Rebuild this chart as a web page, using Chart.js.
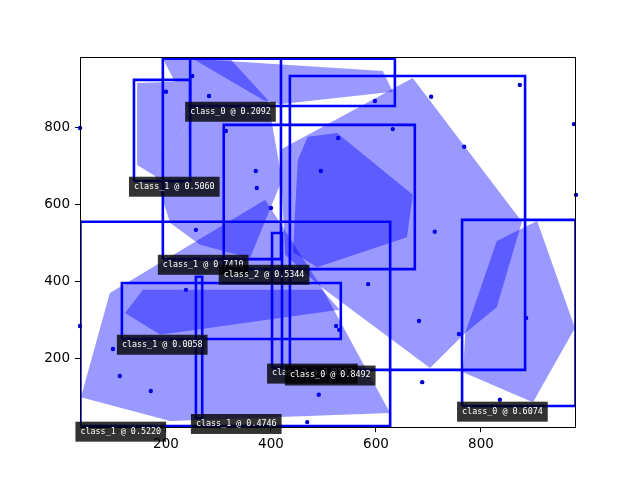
<!DOCTYPE html>
<html><head><meta charset="utf-8">
<script src="https://cdn.jsdelivr.net/npm/chart.js@4/dist/chart.umd.min.js"></script>
<style>html,body{margin:0;padding:0;background:#fff}</style>
</head><body>
<canvas id="c" width="640" height="480" style="display:block;width:640px;height:480px"></canvas>
<script>
// axis ticks and limits
const xTicks = [200, 400, 600, 800];
const yTicks = [200, 400, 600, 800];
const xRange = [36.2, 981];
const yRange = [21.8, 983];

// scatter points
const pointX = [36.2, 200, 250, 282, 314, 371, 373, 400, 257, 598, 705, 874, 977, 632, 528, 768, 495, 981, 712, 585, 524, 530, 682, 758, 886, 688, 491, 469, 836, 36.2, 99, 112, 171, 238];
const pointY = [800, 894, 935, 883, 792, 688, 644, 592, 535, 870, 881, 912, 810, 797, 774, 751, 688, 626, 530, 394, 285, 275, 298, 264, 306, 139, 106, 35, 93, 285, 225, 155, 116, 379];

// polygons (x, y vertices)
const polyA  = [[145,917],[217,920],[242,816],[179,675],[145,704]];
const polyTop = [[251,980],[613,948],[632,894],[417,862],[385,873]];
const polyMid = [[194,980],[322,980],[394,873],[421,665],[360,462],[265,496],[208,553],[179,675],[242,816],[217,920]];
const polyBig = [[670,930],[878,556],[830,334],[770,267],[703,176],[493,389],[427,470],[417,743]];
const polyInner = [[470,777],[526,787],[670,626],[659,516],[488,438],[442,477],[451,717]];
const polyRight = [[830,506],[907,558],[979,280],[899,87],[766,165],[770,267]];
const polyLow = [[38,100],[93,371],[389,613],[497,384],[627,59],[208,38]];
const polyBand = [[122,319],[156,379],[497,379],[531,327],[417,306],[189,262]];
const polygons = [polyA, polyTop, polyMid, polyBig, polyInner, polyRight, polyLow, polyBand];

// detection boxes
const boxLabels = ['class_1 @ 0.5060','class_0 @ 0.2092','class_1 @ 0.7410','class_2 @ 0.5344','class_1 @ 0.0058','class_2 @ 0.3107','class_0 @ 0.8492','class_1 @ 0.4746','class_1 @ 0.5220','class_0 @ 0.6074'];
const boxLeft   = [139, 246, 194, 310, 116, 402, 436, 257, 37, 764];
const boxRight  = [246, 636, 419, 674, 533, 421, 884, 269, 627, 980];
const boxBottom = [662, 857, 459, 433, 251, 176, 171, 45, 25, 77];
const boxTop    = [925, 980, 980, 808, 397, 527, 935, 413, 556, 561];

const datasets = [];
polygons.forEach(p => datasets.push({
  data: p.map(v => ({x: v[0], y: v[1]})),
  showLine: true, fill: 'shape', backgroundColor: 'rgba(0,0,255,0.4)',
  borderWidth: 0, borderColor: 'rgba(0,0,0,0)', pointRadius: 0, tension: 0
}));
boxLabels.forEach((t, i) => datasets.push({
  data: [
    {x: boxLeft[i], y: boxBottom[i]}, {x: boxRight[i], y: boxBottom[i]},
    {x: boxRight[i], y: boxTop[i]}, {x: boxLeft[i], y: boxTop[i]},
    {x: boxLeft[i], y: boxBottom[i]}
  ],
  showLine: true, fill: false, borderColor: '#0000ff', borderWidth: 2.6,
  pointRadius: 0, tension: 0, borderJoinStyle: 'miter'
}));
datasets.push({
  data: pointX.map((x, i) => ({x, y: pointY[i]})),
  showLine: false, pointRadius: 2.2, backgroundColor: '#0000cc', borderWidth: 0,
  clip: 3
});

const overlay = {
  id: 'overlay',
  afterDatasetsDraw(chart) {
    const {ctx, scales: {x, y}} = chart;
    ctx.save();
    ctx.strokeStyle = '#000'; ctx.lineWidth = 1;
    ctx.strokeRect(80.5, 57.5, 495, 370);
    ctx.font = '8.4px "DejaVu Sans Mono"';
    ctx.textBaseline = 'middle';
    boxLabels.forEach((t, i) => {
      const px = x.getPixelForValue(boxLeft[i]);
      const py = y.getPixelForValue(boxBottom[i]);
      const w = ctx.measureText(t).width;
      ctx.fillStyle = 'rgba(0,0,0,0.8)';
      ctx.fillRect(px - 5, py - 4.3, w + 10, 20);
      ctx.fillStyle = '#fff';
      ctx.fillText(t, px, py + 5.4);
    });
    ctx.restore();
  }
};

Chart.defaults.font.family = '"DejaVu Sans"';
new Chart(document.getElementById('c'), {
  type: 'scatter',
  data: {datasets},
  options: {
    responsive: false, animation: false, devicePixelRatio: 1,
    layout: {padding: {left: 0, right: 64, top: 57.6, bottom: 0}},
    plugins: {legend: {display: false}, tooltip: {enabled: false}},
    scales: {
      x: {
        type: 'linear', min: xRange[0], max: xRange[1],
        afterBuildTicks: s => { s.ticks = xTicks.map(v => ({value: v})); },
        afterFit: s => { s.height = 52.8; },
        grid: {display: true, drawOnChartArea: false, drawTicks: true, tickLength: 5, color: '#000'},
        border: {display: false},
        ticks: {color: '#000', font: {size: 13.5}, padding: 4, maxRotation: 0}
      },
      y: {
        type: 'linear', min: yRange[0], max: yRange[1],
        afterBuildTicks: s => { s.ticks = yTicks.map(v => ({value: v})); },
        afterFit: s => { s.width = 80; },
        grid: {display: true, drawOnChartArea: false, drawTicks: true, tickLength: 5, color: '#000'},
        border: {display: false},
        ticks: {color: '#000', font: {size: 13.5}, padding: 5}
      }
    }
  },
  plugins: [overlay]
});
</script>
</body></html>
